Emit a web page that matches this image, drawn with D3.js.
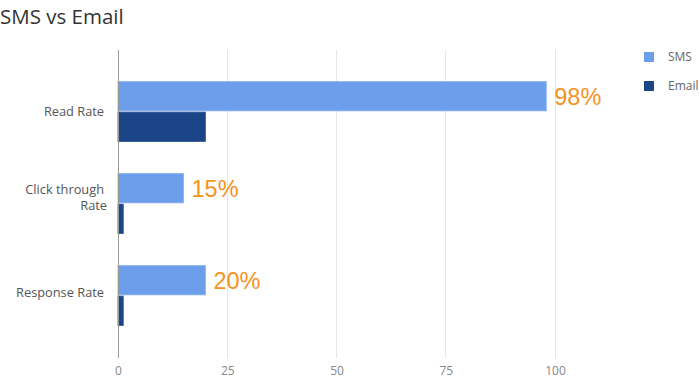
<!DOCTYPE html>
<html><head><meta charset="utf-8">
<script src="https://cdn.jsdelivr.net/npm/d3@7"></script>
<style>body{margin:0;background:#fff;}svg{display:block;font-family:"Open Sans",sans-serif;}</style>
</head><body>
<svg id="c" width="700" height="381"></svg>
<script>
const categories = ["Read Rate", "Click through|Rate", "Response Rate"];
const series = ["SMS", "Email"];
const smsValues = [98, 15, 20];
const emailValues = [20, 1.2, 1.2];
const smsLabels = ["98%", "15%", "20%"];
const xTicks = [0, 25, 50, 75, 100];
const colors = ["#6d9eeb", "#1c4587"];

const svg = d3.select("#c");
const x = d3.scaleLinear().domain([0, 100]).range([118, 555]);
const y = d3.scaleBand().domain(categories).range([65.5, 341.5]).paddingInner(0.348).paddingOuter(0.174);
const ySub = d3.scaleBand().domain(series).range([0, y.bandwidth()]).paddingInner(0.04);
const plotTop = 50, plotBottom = 358;

svg.append("text").attr("x", 0).attr("y", 24).attr("font-size", 20.5).attr("fill", "#333").text("SMS vs Email");

// gridlines
svg.append("g").selectAll("line").data(xTicks.slice(1)).join("line")
  .attr("x1", d => x(d)).attr("x2", d => x(d)).attr("y1", plotTop).attr("y2", plotBottom)
  .attr("stroke", "#e6e6e6").attr("stroke-width", 1).attr("shape-rendering", "crispEdges");

// x tick labels via axis
const xAxis = svg.append("g").attr("transform", `translate(0,${plotBottom})`)
  .call(d3.axisBottom(x).tickValues(xTicks).tickSize(0).tickPadding(8));
xAxis.select(".domain").remove();
xAxis.selectAll("text").attr("font-family", "Open Sans").attr("font-size", 12).attr("fill", "#888");

const data = categories.map((c, i) => ({cat: c, vals: [smsValues[i], emailValues[i]]}));
const groups = svg.append("g").selectAll("g").data(data).join("g")
  .attr("transform", d => `translate(0,${y(d.cat)})`);
groups.selectAll("rect").data(d => d.vals.map((v, j) => ({s: series[j], v, j}))).join("rect")
  .attr("x", x(0)).attr("y", d => ySub(d.s)).attr("width", d => x(d.v) - x(0))
  .attr("height", ySub.bandwidth()).attr("fill", d => colors[d.j])
  .attr("stroke", d => d.j === 0 ? "#8ab4f5" : "#2a559a").attr("stroke-width", 0.8);

// value labels
groups.append("text")
  .attr("x", (d) => x(d.vals[0]) + 8)
  .attr("y", ySub("SMS") + ySub.bandwidth() / 2 + 8.5)
  .attr("font-family", "Liberation Sans, Arial, sans-serif").attr("font-size", 23.5).attr("fill", "#f6921e")
  .text((d, i) => smsLabels[i]);

// zero axis line
svg.append("line").attr("x1", x(0)).attr("x2", x(0)).attr("y1", plotTop).attr("y2", plotBottom)
  .attr("stroke", "#999").attr("stroke-width", 1).attr("shape-rendering", "crispEdges");

// category labels
const cl = svg.append("g").selectAll("text").data(categories).join("text")
  .attr("text-anchor", "end").attr("font-size", 12.8).attr("fill", "#555");
cl.each(function(c, i) {
  const lines = c.split("|");
  const cy = y(c) + y.bandwidth() / 2 - (i === 2 ? 3 : 0);
  const lh = 16.5;
  const t = d3.select(this);
  lines.forEach((ln, k) => {
    t.append("tspan").attr("x", lines.length > 1 && k === 1 ? 107 : 104)
      .attr("y", cy - (lines.length - 1) * lh / 2 - (lines.length > 1 ? 6 : 0) + k * lh + 4.5).text(ln);
  });
});

// legend
const lg = svg.append("g").selectAll("g").data(series).join("g")
  .attr("transform", (d, i) => `translate(644,${52 + i * 29})`);
lg.append("rect").attr("width", 10).attr("height", 10).attr("fill", (d, i) => colors[i]);
lg.append("text").attr("x", 24).attr("y", 9).attr("font-size", 12).attr("fill", "#666").text(d => d);
</script>
</body></html>
